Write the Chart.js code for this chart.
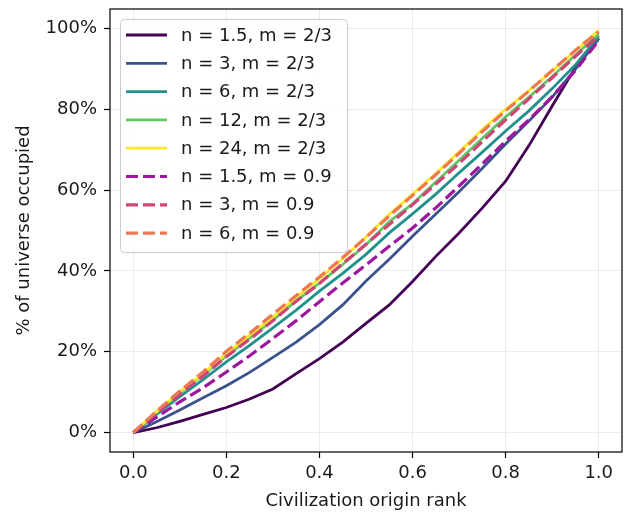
<!DOCTYPE html>
<html>
<head>
<meta charset="utf-8">
<title>Universe occupied by civilization origin rank</title>
<script src="https://cdn.jsdelivr.net/npm/chart.js@4.4.0/dist/chart.umd.min.js"></script>
<style>
  body { margin: 0; background: #fff; }
  #wrap { width: 626px; height: 513px; }
</style>
</head>
<body>
<div id="wrap"><canvas id="occChart" width="626" height="513"></canvas></div>
<script>
// origin rank (x) and % of universe occupied for each (n, m) run
const rank = [0, 0.05, 0.1, 0.15, 0.2, 0.25, 0.3, 0.35, 0.4, 0.45, 0.5,
              0.55, 0.6, 0.65, 0.7, 0.75, 0.8, 0.85, 0.9, 0.95, 1.0];

const occN1_5m23 = [0, 1.2, 2.8, 4.5, 6.2, 8.3, 10.8, 14.6, 18.3, 22.4, 27.0,
                    31.6, 37.4, 43.6, 49.4, 55.6, 62.2, 71.0, 80.8, 90.4, 97.5];
const occN3m23   = [0, 2.7, 5.6, 8.6, 11.6, 14.9, 18.6, 22.4, 26.7, 31.6, 37.5,
                    42.9, 48.6, 54.1, 59.6, 65.4, 71.4, 77.1, 83.0, 89.9, 97.5];
const occN6m23   = [0, 4.5, 8.9, 13.1, 17.5, 21.6, 25.9, 30.3, 35.0, 39.4, 44.1,
                    49.4, 54.1, 59.0, 64.3, 69.4, 74.6, 79.6, 85.1, 91.0, 98.0];
const occN12m23  = [0, 5.0, 9.8, 14.3, 19.0, 23.4, 27.8, 32.6, 37.0, 41.6, 46.5,
                    52.2, 56.6, 62.0, 67.4, 72.8, 78.1, 83.0, 88.1, 93.4, 98.6];
const occN24m23  = [0, 5.2, 10.1, 14.6, 19.6, 24.1, 28.6, 33.5, 38.1, 43.0, 48.4,
                    54.0, 59.0, 64.1, 69.4, 75.0, 80.0, 84.6, 89.5, 94.5, 99.5];
const occN1_5m09 = [0, 3.8, 7.6, 11.1, 15.0, 19.0, 23.3, 27.7, 32.4, 37.0, 41.5,
                    46.1, 50.6, 55.6, 61.0, 66.5, 72.1, 77.4, 83.1, 89.6, 97.0];
const occN3m09   = [0, 4.9, 9.5, 14.0, 18.8, 23.1, 27.7, 32.5, 36.9, 41.8, 46.6,
                    51.5, 56.4, 61.5, 66.6, 72.0, 77.4, 82.6, 87.8, 93.1, 98.2];
const occN6m09   = [0, 5.3, 10.3, 15.0, 20.1, 24.6, 29.3, 33.9, 38.5, 43.3, 48.3,
                    53.6, 58.7, 63.8, 69.1, 74.5, 79.6, 84.5, 89.6, 94.6, 99.2];

const xTicks = [0, 0.2, 0.4, 0.6, 0.8, 1.0];
const yTicks = [0, 20, 40, 60, 80, 100];

const seriesLabels = [
  'n = 1.5, m = 2/3', 'n = 3, m = 2/3', 'n = 6, m = 2/3', 'n = 12, m = 2/3',
  'n = 24, m = 2/3', 'n = 1.5, m = 0.9', 'n = 3, m = 0.9', 'n = 6, m = 0.9'
];
const seriesValues = [occN1_5m23, occN3m23, occN6m23, occN12m23, occN24m23,
                      occN1_5m09, occN3m09, occN6m09];
const seriesColors = ['#440154', '#3b528b', '#21918c', '#5ec962', '#fde725',
                      '#9c179e', '#cc4778', '#ed7953'];
const seriesDashed = [false, false, false, false, false, true, true, true];

const FONT = '"DejaVu Sans", sans-serif';
const TEXT = '#1a1a1a';
const DASH = [12, 5];

const datasets = seriesLabels.map((label, i) => ({
  label: label,
  data: rank.map((x, j) => ({ x: x, y: seriesValues[i][j] })),
  borderColor: seriesColors[i],
  backgroundColor: seriesColors[i],
  borderWidth: seriesDashed[i] ? 3.2 : 2.8,
  borderDash: seriesDashed[i] ? DASH : [],
  pointRadius: 0,
  tension: 0,
  fill: false,
  // later series paint over earlier ones
  order: seriesLabels.length - i
}));

// black frame on all four sides, drawn over the lines
const framePlugin = {
  id: 'frame',
  afterDatasetsDraw(chart) {
    const a = chart.chartArea, c = chart.ctx;
    c.save();
    c.strokeStyle = '#000';
    c.lineWidth = 1.2;
    c.strokeRect(a.left, a.top, a.right - a.left, a.bottom - a.top);
    c.restore();
  }
};

// boxed legend in the upper-left corner of the plot
const legendPlugin = {
  id: 'boxLegend',
  afterDraw(chart) {
    const c = chart.ctx;
    const bx = 120.5, by = 19.5, bw = 227, bh = 233, r = 4;
    c.save();
    c.beginPath();
    c.roundRect(bx, by, bw, bh, r);
    c.fillStyle = 'rgba(255,255,255,0.85)';
    c.fill();
    c.strokeStyle = '#cccccc';
    c.lineWidth = 1;
    c.stroke();
    c.font = '18px ' + FONT;
    c.textBaseline = 'middle';
    c.textAlign = 'left';
    seriesLabels.forEach((label, i) => {
      const y = 35 + i * 28.3;
      c.beginPath();
      c.setLineDash(seriesDashed[i] ? DASH : []);
      c.strokeStyle = seriesColors[i];
      c.lineWidth = seriesDashed[i] ? 3.2 : 2.8;
      c.moveTo(126, y);
      c.lineTo(167, y);
      c.stroke();
      c.setLineDash([]);
      c.fillStyle = TEXT;
      c.fillText(label, 181, y + 1);
    });
    c.restore();
  }
};

const ctx = document.getElementById('occChart').getContext('2d');
const occChart = new Chart(ctx, {
  type: 'line',
  data: { datasets: datasets },
  options: {
    responsive: false,
    animation: false,
    devicePixelRatio: 1,
    layout: { padding: { top: 9, right: 4, left: 0, bottom: 0 } },
    plugins: {
      legend: { display: false },
      tooltip: { enabled: false }
    },
    scales: {
      x: {
        type: 'linear',
        min: -0.05,
        max: 1.05,
        afterBuildTicks: s => { s.ticks = xTicks.map(v => ({ value: v })); },
        afterFit: s => { s.height = 61; s.paddingLeft = 0; s.paddingRight = 0; },
        ticks: {
          callback: v => v.toFixed(1),
          font: { family: FONT, size: 18 },
          color: TEXT,
          padding: 5,
          maxRotation: 0
        },
        grid: { color: '#ebebeb', lineWidth: 1, tickColor: '#000', tickLength: 6, tickWidth: 1.2 },
        border: { display: false },
        title: {
          display: true,
          text: 'Civilization origin rank',
          font: { family: FONT, size: 18 },
          color: TEXT,
          padding: { top: 0, bottom: 1 }
        }
      },
      y: {
        type: 'linear',
        min: -4.8,
        max: 104.8,
        afterBuildTicks: s => { s.ticks = yTicks.map(v => ({ value: v })); },
        // fixed axis width; the margin above the top tick already fits its label
        afterFit: s => { s.width = 110; s.paddingTop = 0; s.paddingBottom = 0; },
        ticks: {
          callback: v => v + '%',
          font: { family: FONT, size: 18 },
          color: TEXT,
          padding: 7
        },
        grid: { color: '#ebebeb', lineWidth: 1, tickColor: '#000', tickLength: 6, tickWidth: 1.2 },
        border: { display: false },
        title: {
          display: true,
          text: '% of universe occupied',
          font: { family: FONT, size: 18 },
          color: TEXT,
          padding: { top: 14, bottom: 0 }
        }
      }
    }
  },
  plugins: [framePlugin, legendPlugin]
});
</script>
</body>
</html>
